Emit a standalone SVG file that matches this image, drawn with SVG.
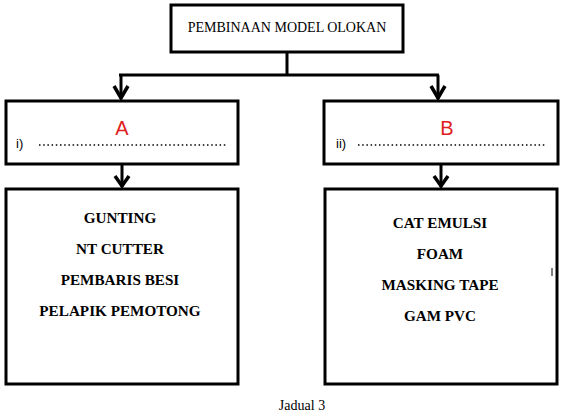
<svg xmlns="http://www.w3.org/2000/svg" width="561" height="413" viewBox="0 0 561 413">
<style>
.box{fill:#fff;stroke:#000;stroke-width:3}
.ln{fill:none;stroke:#000;stroke-width:3}
.hd{fill:none;stroke:#000;stroke-width:3.5;stroke-linejoin:miter}
.t{font-family:"Liberation Serif",serif;font-size:14px;fill:#000}
.b{font-family:"Liberation Serif",serif;font-size:15.2px;font-weight:bold;fill:#000;text-anchor:middle}
.s{font-family:"Liberation Sans",Arial,sans-serif;font-size:13px;fill:#000}
.r{font-family:"Liberation Sans",Arial,sans-serif;font-size:20px;fill:#e02020;text-anchor:middle}
.dot{stroke:#000;stroke-width:1.5;stroke-dasharray:1.5 2.7}
</style>
<rect width="561" height="413" fill="#fff"/>
<g id="connectors">
<path class="ln" d="M287,52 V75 M119,75 H439"/>
<path class="ln" d="M121,75 V99"/>
<path class="hd" d="M114,86 L121,98 L128,86"/>
<path class="ln" d="M438,75 V99"/>
<path class="hd" d="M431,86 L438,98 L445,86"/>
<path class="ln" d="M122,164 V187"/>
<path class="hd" d="M115,176 L122,186 L129,176"/>
<path class="ln" d="M441,164 V187"/>
<path class="hd" d="M434,176 L441,186 L448,176"/>
</g>
<g id="top">
<rect class="box" x="171" y="5" width="232" height="47"/>
<text class="t" x="287" y="32" text-anchor="middle">PEMBINAAN MODEL OLOKAN</text>
</g>
<g id="midA">
<rect class="box" x="6" y="101" width="232" height="63"/>
<text class="r" x="122" y="135">A</text>
<text class="s" x="16" y="148">i)</text>
<line class="dot" x1="39" y1="145" x2="227" y2="145"/>
</g>
<g id="midB">
<rect class="box" x="324" y="101" width="234" height="63"/>
<text class="r" x="447" y="135">B</text>
<text class="s" x="336" y="148">ii)</text>
<line class="dot" x1="358" y1="145" x2="545" y2="145"/>
</g>
<g id="lowA">
<rect class="box" x="6" y="189" width="232" height="195"/>
<text class="b" x="120" y="223">GUNTING</text>
<text class="b" x="120" y="254">NT CUTTER</text>
<text class="b" x="120" y="285">PEMBARIS BESI</text>
<text class="b" x="120" y="316">PELAPIK PEMOTONG</text>
</g>
<g id="lowB">
<rect class="box" x="325" y="189" width="232" height="195"/>
<text class="b" x="440" y="228">CAT EMULSI</text>
<text class="b" x="440" y="259">FOAM</text>
<text class="b" x="440" y="290">MASKING TAPE</text>
<text class="b" x="440" y="321">GAM PVC</text>
<line x1="552" y1="268" x2="552" y2="276" stroke="#000" stroke-width="1"/>
</g>
<text class="t" x="302" y="410" text-anchor="middle">Jadual 3</text>
</svg>
